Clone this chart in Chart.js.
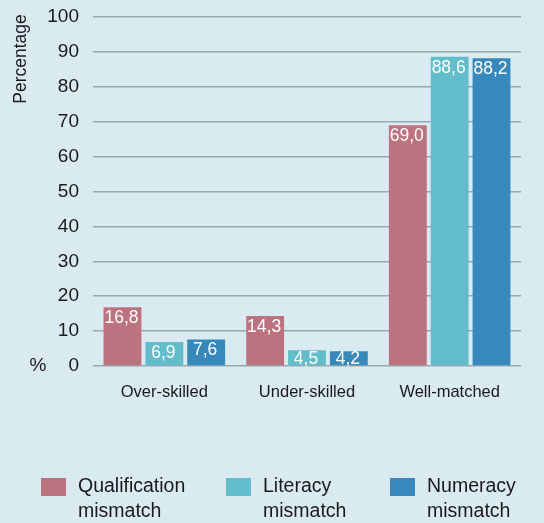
<!DOCTYPE html>
<html>
<head>
<meta charset="utf-8">
<script src="https://cdn.jsdelivr.net/npm/chart.js@4.4.1/dist/chart.umd.min.js"></script>
<style>
  html, body { margin: 0; padding: 0; background: #daeaf1; }
  canvas { display: block; }
</style>
</head>
<body>
<canvas id="skillsChart" width="544" height="523"></canvas>
<script>
// Chart data
const categories = ['Over-skilled', 'Under-skilled', 'Well-matched'];
const qualificationMismatch = [16.8, 14.3, 69.0];
const literacyMismatch = [6.9, 4.5, 88.6];
const numeracyMismatch = [7.6, 4.2, 88.2];
const seriesLabels = ['Qualification mismatch', 'Literacy mismatch', 'Numeracy mismatch'];
const seriesColors = ['#bd737f', '#62bdca', '#3889bb'];
const yMin = 0;
const yMax = 100;
const yStep = 10;

const FONT = '"Liberation Sans", Arial, Helvetica, sans-serif';
const TEXT = '#1a1a1a';

function formatValue(v) {
  return v.toFixed(1).replace('.', ',');
}

// White value labels at the top inside each bar
const valueLabels = {
  id: 'valueLabels',
  afterDraw(chart) {
    const ctx = chart.ctx;
    ctx.save();
    ctx.fillStyle = '#ffffff';
    ctx.font = '17.5px ' + FONT;
    ctx.textAlign = 'center';
    ctx.textBaseline = 'middle';
    chart.data.datasets.forEach((ds, i) => {
      const meta = chart.getDatasetMeta(i);
      meta.data.forEach((bar, j) => {
        // keep the label inside short bars
        const offset = Math.min(11, (bar.base - bar.y) / 2 + 1);
        ctx.fillText(formatValue(ds.data[j]), bar.x - 1, bar.y + offset);
      });
    });
    ctx.restore();
  }
};

// Axis captions and bottom legend with wrapped labels
const extras = {
  id: 'extras',
  afterDraw(chart) {
    const ctx = chart.ctx;
    const area = chart.chartArea;
    ctx.save();
    ctx.fillStyle = TEXT;

    // rotated "Percentage"
    ctx.save();
    ctx.translate(21, 59);
    ctx.rotate(-Math.PI / 2);
    ctx.font = '17.5px ' + FONT;
    ctx.textAlign = 'center';
    ctx.textBaseline = 'middle';
    ctx.fillText('Percentage', 0, 0);
    ctx.restore();

    // "%" beside zero
    ctx.font = '19px ' + FONT;
    ctx.textAlign = 'center';
    ctx.textBaseline = 'middle';
    ctx.fillText('%', 38, area.bottom);

    // legend
    const boxX = [41, 226, 390];
    chart.data.datasets.forEach((ds, i) => {
      ctx.fillStyle = ds.backgroundColor;
      ctx.fillRect(boxX[i], 478, 25, 18);
      ctx.fillStyle = TEXT;
      ctx.font = '19.5px ' + FONT;
      ctx.textAlign = 'left';
      ctx.textBaseline = 'middle';
      const words = ds.label.split(' ');
      ctx.fillText(words[0], boxX[i] + 37, 487);
      ctx.fillText(words.slice(1).join(' '), boxX[i] + 37, 512);
    });
    ctx.restore();
  }
};

const datasets = [qualificationMismatch, literacyMismatch, numeracyMismatch].map((values, i) => ({
  label: seriesLabels[i],
  data: values,
  backgroundColor: seriesColors[i],
  categoryPercentage: 0.88,
  barPercentage: 0.905
}));

new Chart(document.getElementById('skillsChart'), {
  type: 'bar',
  data: { labels: categories, datasets: datasets },
  options: {
    responsive: false,
    animation: false,
    layout: { padding: { top: 17, right: 23, left: 0, bottom: 0 } },
    plugins: {
      legend: { display: false },
      tooltip: { enabled: false }
    },
    scales: {
      x: {
        grid: { display: false },
        border: { display: false },
        ticks: {
          color: TEXT,
          font: { family: FONT, size: 16.5 },
          padding: 9,
          maxRotation: 0
        },
        afterFit(scale) {
          scale.height = 157;
          scale.paddingLeft = 0;
          scale.paddingRight = 0;
        }
      },
      y: {
        min: yMin,
        max: yMax,
        z: 1,
        grid: {
          color: 'rgba(70, 75, 80, 0.42)',
          lineWidth: 1.5,
          drawTicks: false
        },
        border: { display: false },
        ticks: {
          stepSize: yStep,
          color: TEXT,
          font: { family: FONT, size: 19 },
          padding: 14
        },
        afterFit(scale) {
          scale.width = 93;
          scale.paddingTop = 0;
          scale.paddingBottom = 0;
        }
      }
    }
  },
  plugins: [valueLabels, extras]
});
</script>
</body>
</html>
